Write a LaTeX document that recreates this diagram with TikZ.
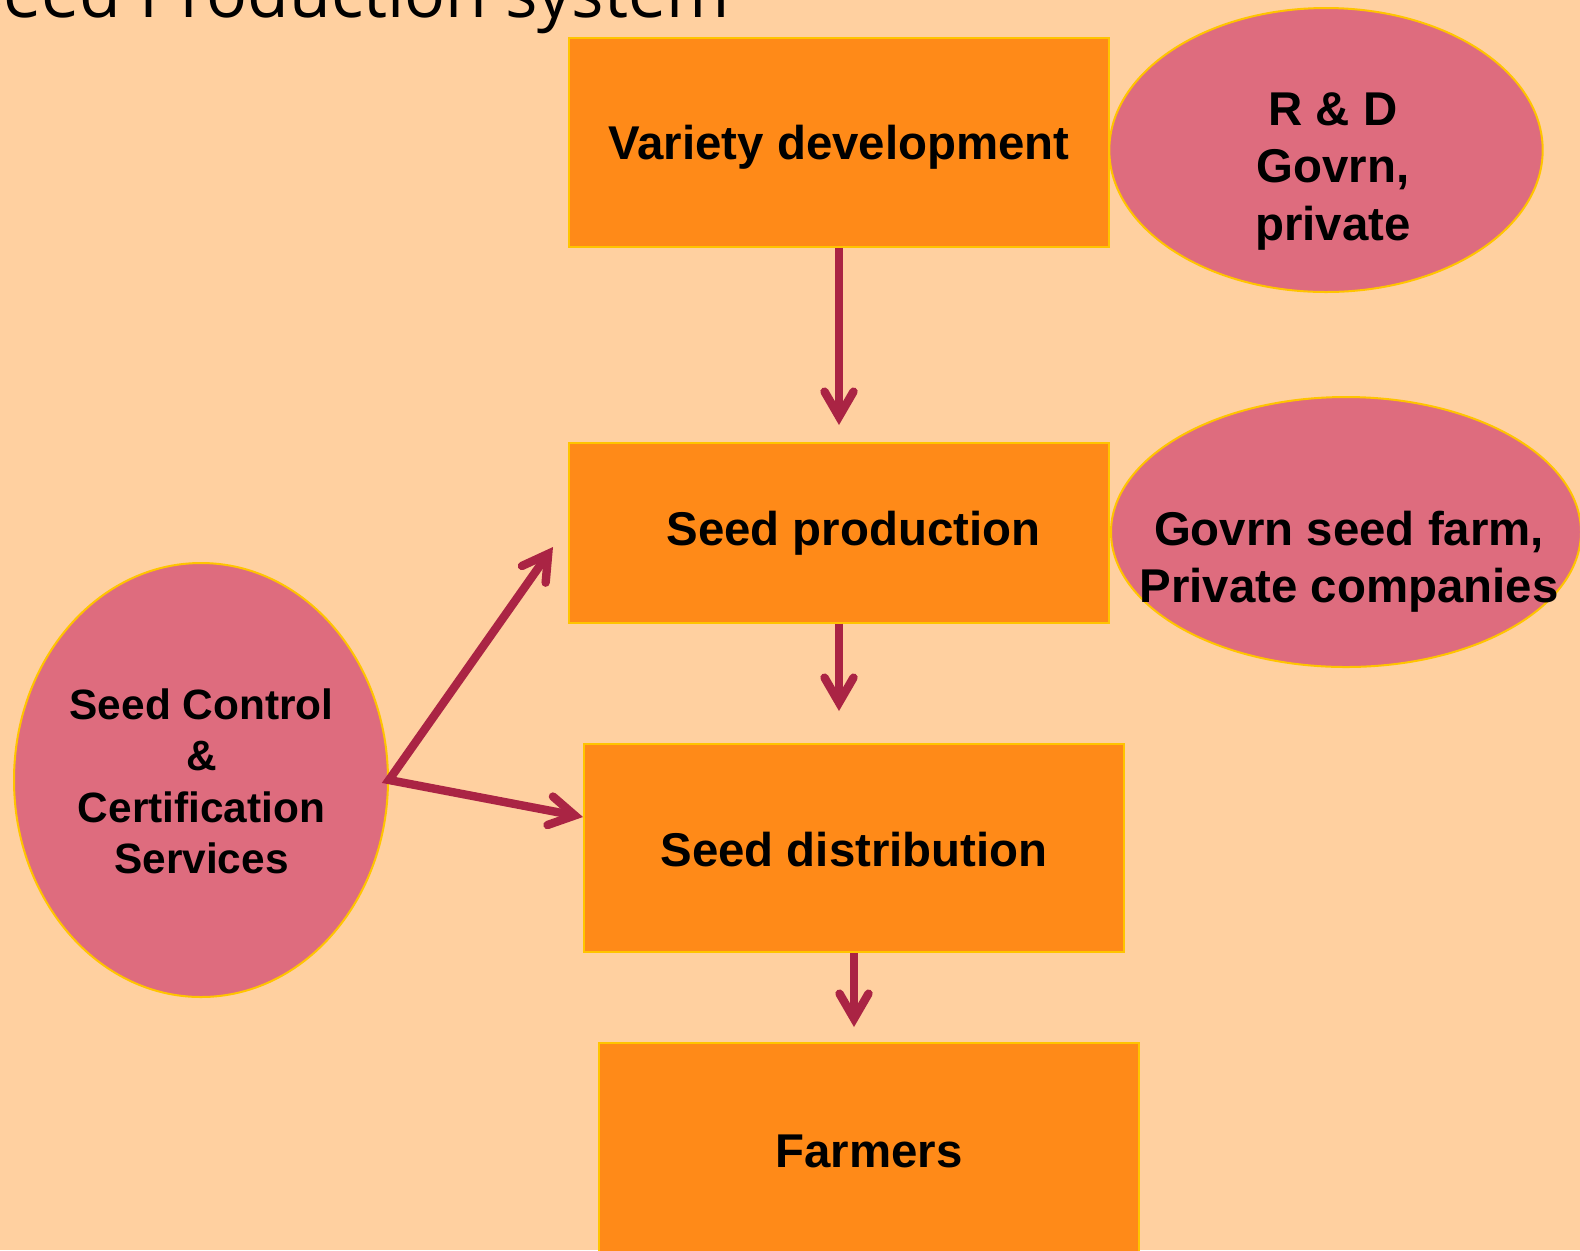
\documentclass[tikz,border=0pt]{standalone}
\usepackage{fontspec}
\setmainfont{Liberation Sans}
\newfontfamily\titlefont{Open Sans}
\usetikzlibrary{arrows.meta,shapes.geometric}
\definecolor{bgc}{RGB}{255,208,160}
\definecolor{boxc}{RGB}{255,138,24}
\definecolor{ellc}{RGB}{222,108,126}
\definecolor{edgec}{RGB}{255,196,0}
\definecolor{arrc}{RGB}{170,36,68}
\tikzset{
  flowbox/.style={rectangle, draw=edgec, fill=boxc, line width=1pt, minimum width=269.75pt, inner sep=0pt},
  bubble/.style={ellipse, draw=edgec, fill=ellc, line width=1pt, inner sep=0pt},
  lbl/.style={anchor=base, font=\bfseries\fontsize{23.7}{28.7}\selectfont, align=center, inner sep=0pt},
  flow/.style={draw=arrc, line width=4.2pt, line join=miter, -{Straight Barb[length=12.5pt,width=14.5pt,line cap=round,line join=miter]}},
  flowboth/.style={draw=arrc, line width=4.2pt, line join=miter, {Straight Barb[length=12.5pt,width=14.5pt,line cap=round,line join=miter]}-{Straight Barb[length=12.5pt,width=14.5pt,line cap=round,line join=miter]}}
}
\begin{document}
\begin{tikzpicture}[x=0.5pt,y=-0.5pt]
\useasboundingbox (0,0) rectangle (1580,1250);
\fill[bgc] (0,0) rectangle (1580,1250);
% title
\node[anchor=base east, inner sep=0pt, font=\titlefont\fontsize{34}{40}\selectfont] (title) at (730,17) {Seed Production system};
% boxes
\node[flowbox, minimum height=104.3pt] (vd) at (839,142.6) {};
\node[flowbox, minimum height=89.7pt] (sp) at (839,533) {};
\node[flowbox, minimum height=104.3pt] (sd) at (854,848) {};
\node[flowbox, minimum height=107pt] (fa) at (869,1150) {};
% ellipses
\node[bubble, minimum width=216.7pt, minimum height=142pt] (rd) at (1326,150) {};
\node[bubble, minimum width=235pt, minimum height=135pt] (gs) at (1346,532) {};
\node[bubble, minimum width=187pt, minimum height=217pt] (sc) at (201,780) {};
% texts
\node[lbl] (vdt) at (839,159) {Variety development};
\node[lbl] (spt) at (853.5,545) {Seed production};
\node[lbl] (sdt) at (854,866) {Seed distribution};
\node[lbl] (fat) at (869,1167) {Farmers};
\node[lbl] (rdt) at (1333,240) {R \& D\\Govrn,\\private};
\node[lbl] (gst) at (1349,602.6) {Govrn seed farm,\\Private companies};
\node[lbl, font=\bfseries\fontsize{21.2}{25.7}\selectfont] (sct) at (201.5,873.7) {Seed Control\\\&\\Certification\\Services};
% connectors
\coordinate (a1) at (839,425);
\coordinate (a2) at (839,711);
\coordinate (a3) at (854,1027);
\coordinate (a4) at (553,547);
\coordinate (a5) at (583,817);
\draw[flow] (vd.south) -- (a1);
\draw[flow] (sp.south) -- (a2);
\draw[flow] (sd.south) -- (a3);
\draw[flowboth] (a4) -- (sc.east) -- (a5);
\end{tikzpicture}
\end{document}
